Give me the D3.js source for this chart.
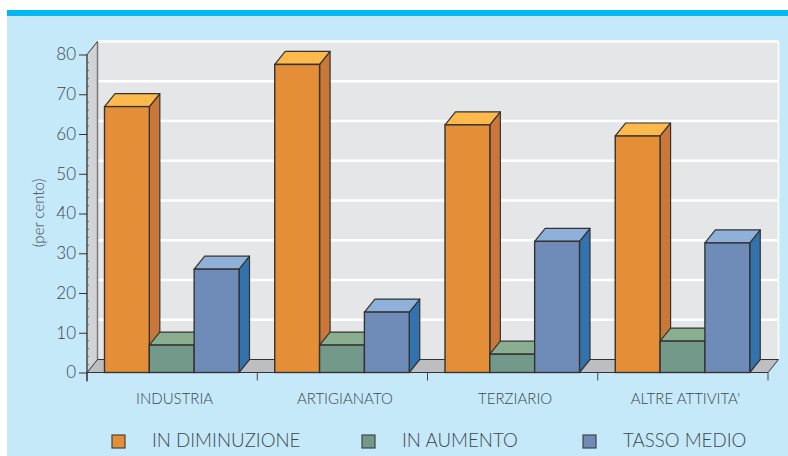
<!DOCTYPE html>
<html><head><meta charset="utf-8">
<script src="https://d3js.org/d3.v7.min.js"></script>
<style>html,body{margin:0;padding:0;background:#fff}svg{display:block}text{font-family:Lato,"Open Sans",sans-serif;font-weight:300;fill:#3d474d}</style>
</head><body><svg id="c" width="788" height="456"></svg>
<script>
const categories=["INDUSTRIA","ARTIGIANATO","TERZIARIO","ALTRE ATTIVITA'"];
const seriesNames=["IN DIMINUZIONE","IN AUMENTO","TASSO MEDIO"];
const inDiminuzione=[66.9,77.5,62.3,59.5];
const inAumento=[6.9,6.9,4.6,7.9];
const tassoMedio=[26,15.2,33,32.6];
const yTicks=[0,10,20,30,40,50,60,70,80];
const seriesValues=[inDiminuzione,inAumento,tassoMedio];
const colors=[{front:"#e48f37",top:"#fdb94c",side:"#c9783a"},{front:"#73998a",top:"#8aae90",side:"#6d9080"},{front:"#6f8cb8",top:"#8fb0d8",side:"#3273ae"}];

const svg=d3.select("#c");
const dx=10.5,dy=-13;
const x=d3.scaleBand().domain(categories).range([87,768]).paddingInner(0).paddingOuter(0);
const y=d3.scaleLinear().domain([0,80]).range([372.5,54.5]);
const inner=d3.scaleBand().domain(d3.range(3)).range([17.5,152]);
const line=d3.line();
const poly=(pts,fill,stroke,sw)=>svg.append("path").attr("d",line(pts)+"Z").attr("fill",fill).attr("stroke",stroke||"none").attr("stroke-width",sw||0).attr("stroke-linejoin","round");

svg.append("rect").attr("x",7).attr("y",10).attr("width",781).attr("height",446).attr("fill","#c6e9fa");
svg.append("rect").attr("x",7).attr("y",10).attr("width",781).attr("height",6).attr("fill","#00b9f2");

const L=x.range()[0],R=x.range()[1],y0=y(0),yT=y(80);
svg.append("rect").attr("x",L+dx).attr("y",yT+dy).attr("width",R-L).attr("height",y0-yT).attr("fill","#e5e6e8");
svg.append("g").selectAll("line").data(yTicks.slice(1)).join("line")
 .attr("x1",L+dx).attr("x2",R+dx).attr("y1",d=>y(d)+dy).attr("y2",d=>y(d)+dy).attr("stroke","#fff").attr("stroke-width",2.5);
svg.append("line").attr("x1",R+dx).attr("x2",R+dx).attr("y1",yT+dy).attr("y2",y0+dy).attr("stroke","#fff").attr("stroke-width",1.5);
poly([[L,y0],[L+dx,y0+dy],[L+dx,yT+dy],[L,yT]],"#d1d3d4");
svg.append("line").attr("x1",L+dx).attr("x2",L+dx).attr("y1",yT+dy).attr("y2",y0+dy).attr("stroke","#77787b").attr("stroke-width",1.5);
svg.append("line").attr("x1",L).attr("x2",L+dx).attr("y1",yT).attr("y2",yT+dy).attr("stroke","#333").attr("stroke-width",1);
poly([[L,y0],[L+dx,y0+dy],[R+dx,y0+dy],[R,y0]],"#bcbec0");
svg.append("path").attr("d",line([[L,y0],[L+dx,y0+dy],[R+dx,y0+dy],[R,y0]])).attr("fill","none").attr("stroke","#333").attr("stroke-width",1);

categories.forEach((c,i)=>{
  seriesValues.forEach((vals,s)=>{
    const v=vals[i],xa=x(c)+inner(s),xb=xa+inner.bandwidth(),yv=y(v),k=colors[s],st="#333";
    poly([[xb,y0],[xb+dx,y0+dy],[xb+dx,yv+dy],[xb,yv]],k.side,st,1.2);
    poly([[xa,yv],[xa+dx,yv+dy],[xb+dx,yv+dy],[xb,yv]],k.top,st,1.2);
    svg.append("rect").attr("x",xa).attr("y",yv).attr("width",xb-xa).attr("height",y0-yv).attr("fill",k.front).attr("stroke",st).attr("stroke-width",1.4);
  });
});

const axisY=d3.axisLeft(y).tickValues(yTicks).tickSize(8).tickPadding(3);
const gy=svg.append("g").attr("transform",`translate(${L},0)`).call(axisY);
gy.select(".domain").remove();
gy.selectAll("line").attr("stroke","#333").attr("stroke-width",1);
gy.selectAll("text").style("font-size","17px").style("font-family","Lato").style("font-weight",300).style("fill","#3d474d");
svg.append("line").attr("x1",L).attr("x2",L).attr("y1",yT).attr("y2",y0+9).attr("stroke","#222").attr("stroke-width",1.2);
svg.append("g").selectAll("line").data(d3.range(0,81,2).filter(d=>d%10)).join("line")
 .attr("x1",L).attr("x2",L+2).attr("y1",d=>y(d)).attr("y2",d=>y(d)).attr("stroke","#555").attr("stroke-width",.8);

const axisLine=[L,...categories.map(c=>x(c)+x.bandwidth())];
svg.append("line").attr("x1",L).attr("x2",R).attr("y1",y0).attr("y2",y0).attr("stroke","#333").attr("stroke-width",1.2);
svg.append("g").selectAll("line").data(axisLine).join("line")
 .attr("x1",d=>d).attr("x2",d=>d).attr("y1",y0).attr("y2",y0+8).attr("stroke","#444").attr("stroke-width",1);
svg.append("g").selectAll("text").data(categories).join("text")
 .attr("x",d=>x(d)+x.bandwidth()/2+2.5).attr("y",404).attr("text-anchor","middle").style("font-size","15px").text(d=>d);

svg.append("text").attr("transform","translate(44,213) rotate(-90)").attr("text-anchor","middle").style("font-size","15px").text("(per cento)");

const legendX=[112,362,583],textX=[152,402,623];
seriesNames.forEach((n,i)=>{
  svg.append("rect").attr("x",legendX[i]).attr("y",435).attr("width",13).attr("height",13).attr("fill",colors[i].front).attr("stroke","#444").attr("stroke-width",1.2);
  svg.append("text").attr("x",textX[i]).attr("y",447).style("font-size","18.7px").text(n);
});
</script></body></html>
